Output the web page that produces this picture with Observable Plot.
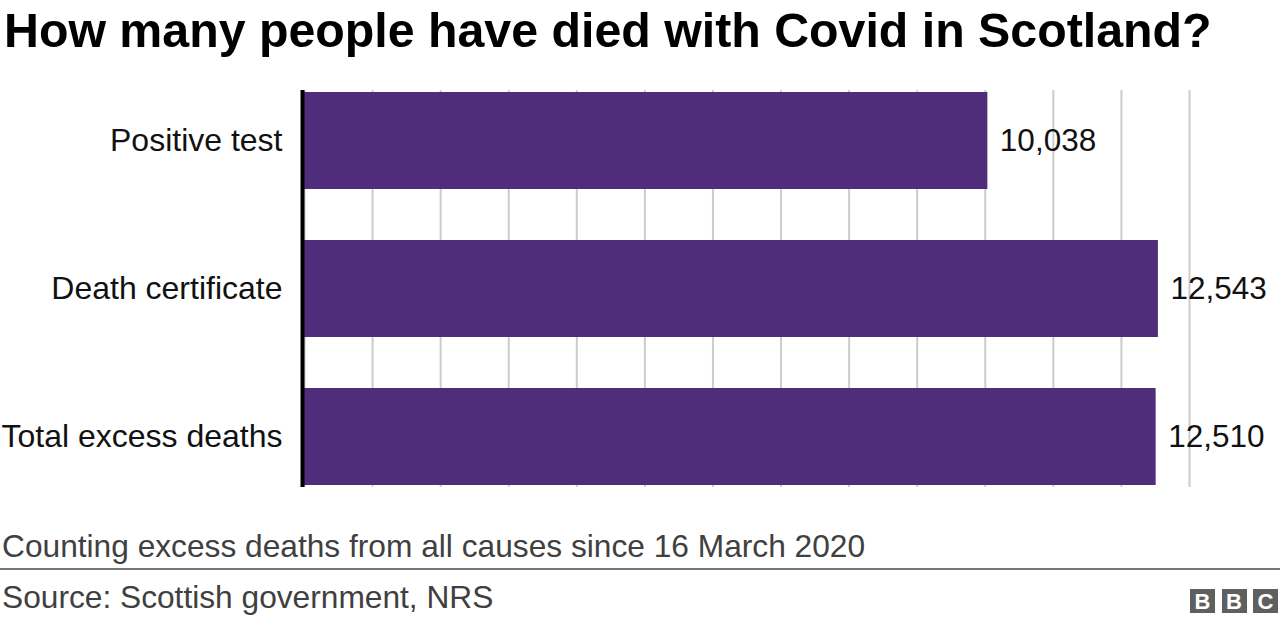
<!DOCTYPE html>
<html>
<head>
<meta charset="utf-8">
<script src="https://cdn.jsdelivr.net/npm/d3@7"></script>
<script src="https://cdn.jsdelivr.net/npm/@observablehq/plot@0.6"></script>
<style>
  html, body { margin: 0; padding: 0; background: #fff; }
  body { width: 1280px; height: 624px; position: relative; overflow: hidden; font-family: "Liberation Sans", Arial, Helvetica, sans-serif; }
  .title { position: absolute; left: 4px; top: 6px; font-size: 48.3px; line-height: 48px; font-weight: bold; color: #000; white-space: nowrap; }
  #chart { position: absolute; left: 0; top: 80px; }
  .sub { position: absolute; left: 2px; font-size: 31.7px; line-height: 32px; color: #404040; white-space: nowrap; }
  .sep { position: absolute; left: 0; top: 568px; width: 1280px; height: 2px; background: #777; }
  .logo { position: absolute; top: 589px; height: 24px; width: 25px; background: #5f5f5f; color: #fff; font-weight: bold; font-size: 22px; line-height: 25px; text-align: center; }
</style>
</head>
<body>
<div class="title" id="title"></div>
<div id="chart"></div>
<div class="sub" id="subtitle" style="top:530px"></div>
<div class="sep"></div>
<div class="sub" id="source" style="top:581px"></div>
<div id="logo"></div>
<script>
const titleText = "How many people have died with Covid in Scotland?";
const subtitleText = "Counting excess deaths from all causes since 16 March 2020";
const sourceText = "Source: Scottish government, NRS";
const categories = ["Positive test", "Death certificate", "Total excess deaths"];
const values = [10038, 12543, 12510];
const gridTicks = d3.range(0, 13001, 1000);
const logoLetters = ["B", "B", "C"];

document.getElementById("title").textContent = titleText;
document.getElementById("subtitle").textContent = subtitleText;
document.getElementById("source").textContent = sourceText;
const logo = document.getElementById("logo");
logoLetters.forEach((l, i) => {
  const d = document.createElement("div");
  d.className = "logo";
  d.style.left = (1190 + i * 31.5) + "px";
  d.textContent = l;
  logo.appendChild(d);
});

const data = categories.map((c, i) => ({label: c, value: values[i]}));
const fmt = d3.format(",");

const chart = Plot.plot({
  width: 1280,
  height: 420,
  marginTop: 10,
  marginBottom: 13,
  marginLeft: 304,
  marginRight: 91,
  style: {fontFamily: '"Liberation Sans", Arial, Helvetica, sans-serif', fontSize: "32px", color: "#222", background: "#fff"},
  x: {domain: [0, 13000], axis: null},
  y: {domain: categories, paddingInner: 0.347, paddingOuter: 0.01, label: null},
  marks: [
    Plot.gridX(gridTicks, {stroke: "#cccccc", strokeOpacity: 1, strokeWidth: 2}),
    Plot.barX(data, {x: "value", y: "label", fill: "#4f2d7a"}),
    Plot.ruleX([0], {stroke: "#000", strokeWidth: 4, dx: -2}),
    Plot.axisY({tickSize: 0, tickPadding: 22, fontSize: 32, fill: "#111", label: null}),
    Plot.text(data, {x: "value", y: "label", text: d => fmt(d.value), dx: 12, textAnchor: "start", fontSize: 31.5, fill: "#111"})
  ]
});
document.getElementById("chart").appendChild(chart);
</script>
</body>
</html>
